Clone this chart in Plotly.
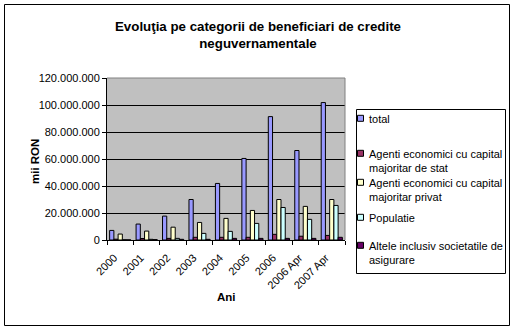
import plotly.graph_objects as go

categories = ["2000", "2001", "2002", "2003", "2004", "2005", "2006", "2006 Apr", "2007 Apr"]
series_names = [
    "total",
    "Agenti economici cu capital<br>majoritar de stat",
    "Agenti economici cu capital<br>majoritar privat",
    "Populatie",
    "Altele inclusiv societatile de<br>asigurare",
]
total = [7100000, 11800000, 17700000, 30000000, 41900000, 60400000, 91400000, 66300000, 101800000]
agenti_stat = [600000, 1100000, 1200000, 2000000, 2000000, 2000000, 4200000, 2800000, 3400000]
agenti_privat = [4400000, 6600000, 9500000, 13000000, 16000000, 21900000, 30000000, 24900000, 30000000]
populatie = [200000, 500000, 1200000, 4900000, 6400000, 12300000, 24100000, 15300000, 25600000]
altele = [100000, 300000, 500000, 500000, 1200000, 1200000, 1200000, 1200000, 2000000]
colors = ["#9999FF", "#993366", "#FFFFCC", "#CCFFFF", "#660066"]

W, H = 516, 332
L, R, T, B = 107, 345, 78, 240  # plot area in pixels

def px_x(x):
    return (x - L) / (R - L)

def px_y(y):
    return (B - y) / (B - T)

fig = go.Figure()
for name, vals, col in zip(series_names, [total, agenti_stat, agenti_privat, populatie, altele], colors):
    fig.add_trace(go.Bar(x=categories, y=vals, name=name, showlegend=False,
                         marker=dict(color=col, line=dict(color="black", width=1))))

font = "Liberation Sans, Arial, sans-serif"
fig.update_layout(
    width=W, height=H,
    margin=dict(l=L, r=W - R, t=T, b=H - B, autoexpand=False),
    paper_bgcolor="white", plot_bgcolor="#C0C0C0",
    separators=",.",
    barmode="group", bargap=0.2, bargroupgap=0,
    font=dict(family=font, size=11, color="black"),
    title=dict(text="<b>Evoluţia pe categorii de beneficiari de credite<br>neguvernamentale</b>",
               x=0.5, xanchor="center", y=1 - 31 / H, yanchor="middle",
               font=dict(family=font, size=13.3, color="black")),
    showlegend=False,
)
fig.update_xaxes(type="category", tickson="boundaries", ticks="outside", ticklen=4,
                 tickcolor="black", showline=True, linecolor="black", linewidth=1,
                 tickangle=-45, showgrid=False, tickfont=dict(size=11), fixedrange=True,
                 ticklabelshift=-6, ticklabelstandoff=6)
fig.update_yaxes(range=[0, 120000000], dtick=20000000, tickformat=",d", ticks="outside",
                 ticklen=4, tickcolor="black", showline=True, linecolor="black", linewidth=1,
                 showgrid=True, gridcolor="black", gridwidth=1, zeroline=False,
                 tickfont=dict(size=11), fixedrange=True)

# plot area top/right border (gray)
fig.add_shape(type="line", xref="paper", yref="paper", x0=0, x1=1, y0=1, y1=1,
              line=dict(color="#808080", width=1))
fig.add_shape(type="line", xref="paper", yref="paper", x0=1, x1=1, y0=0, y1=1,
              line=dict(color="#808080", width=1))
# outer chart border (black)
fig.add_shape(type="rect", xref="paper", yref="paper",
              x0=px_x(4.5), x1=px_x(509.5), y0=px_y(4.5), y1=px_y(325.5),
              line=dict(color="black", width=1))

# manual legend (Excel style)
fig.add_shape(type="rect", xref="paper", yref="paper",
              x0=px_x(356.5), x1=px_x(505.5), y0=px_y(109.5), y1=px_y(273.5),
              line=dict(color="black", width=1), fillcolor="white")
entry_first_line_y = [118.3, 153.3, 182.3, 217.3, 245.3]
for name, col, yline in zip(series_names, colors, entry_first_line_y):
    fig.add_shape(type="rect", xref="paper", yref="paper",
                  x0=px_x(357.5), x1=px_x(363.5), y0=px_y(yline - 3), y1=px_y(yline + 3),
                  line=dict(color="black", width=1), fillcolor=col)
    fig.add_annotation(text=name, xref="paper", yref="paper", x=px_x(367), y=px_y(yline - 7.5),
                       xanchor="left", yanchor="top", align="left", showarrow=False,
                       font=dict(family=font, size=11, color="black"))

fig.add_annotation(text="<b>Ani</b>", xref="paper", yref="paper", x=px_x(226), y=px_y(305),
                   showarrow=False, font=dict(family=font, size=11.5, color="black"))
fig.add_annotation(text="<b>mii RON</b>", xref="paper", yref="paper", x=px_x(27), y=px_y(162),
                   showarrow=False, textangle=-90, font=dict(family=font, size=11.5, color="black"))

fig.write_html("out.html")
